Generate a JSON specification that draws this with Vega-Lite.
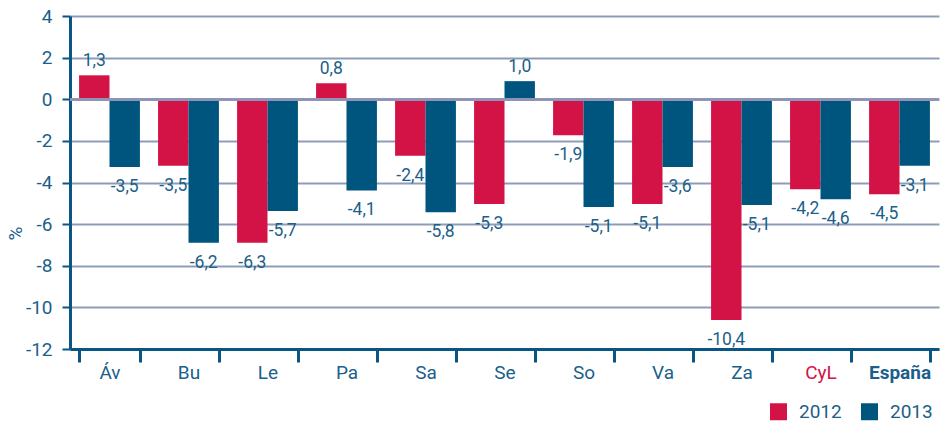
{
  "$schema": "https://vega.github.io/schema/vega-lite/v6.json",
  "width": 869,
  "height": 333,
  "autosize": "none",
  "padding": {"left": 70, "top": 16, "right": 3, "bottom": 73},
  "background": "white",
  "config": {
    "view": {"stroke": null},
    "font": "Roboto",
    "text": {"font": "Roboto"}
  },
  "data": {
    "values": [
      {"region": "Áv", "year": "2012", "value": 1.15, "label": "1,3"},
      {"region": "Áv", "year": "2013", "value": -3.25, "label": "-3,5"},
      {"region": "Bu", "year": "2012", "value": -3.2, "label": "-3,5"},
      {"region": "Bu", "year": "2013", "value": -6.9, "label": "-6,2"},
      {"region": "Le", "year": "2012", "value": -6.9, "label": "-6,3"},
      {"region": "Le", "year": "2013", "value": -5.37, "label": "-5,7"},
      {"region": "Pa", "year": "2012", "value": 0.77, "label": "0,8"},
      {"region": "Pa", "year": "2013", "value": -4.38, "label": "-4,1"},
      {"region": "Sa", "year": "2012", "value": -2.72, "label": "-2,4"},
      {"region": "Sa", "year": "2013", "value": -5.43, "label": "-5,8"},
      {"region": "Se", "year": "2012", "value": -5.03, "label": "-5,3"},
      {"region": "Se", "year": "2013", "value": 0.87, "label": "1,0"},
      {"region": "So", "year": "2012", "value": -1.73, "label": "-1,9"},
      {"region": "So", "year": "2013", "value": -5.18, "label": "-5,1"},
      {"region": "Va", "year": "2012", "value": -5.03, "label": "-5,1"},
      {"region": "Va", "year": "2013", "value": -3.25, "label": "-3,6"},
      {"region": "Za", "year": "2012", "value": -10.61, "label": "-10,4"},
      {"region": "Za", "year": "2013", "value": -5.08, "label": "-5,1"},
      {"region": "CyL", "year": "2012", "value": -4.33, "label": "-4,2"},
      {"region": "CyL", "year": "2013", "value": -4.81, "label": "-4,6"},
      {"region": "España", "year": "2012", "value": -4.56, "label": "-4,5"},
      {"region": "España", "year": "2013", "value": -3.2, "label": "-3,1"}
    ]
  },
  "encoding": {
    "x": {
      "field": "region",
      "type": "nominal",
      "sort": null,
      "scale": {"paddingInner": 0.23, "paddingOuter": 0.115},
      "axis": {
        "title": null,
        "labelAngle": 0,
        "tickBand": "extent",
        "domainColor": "#0B5585",
        "domainWidth": 3,
        "tickColor": "#0B5585",
        "tickWidth": 3,
        "tickSize": 13,
        "labelFontSize": 19,
        "labelFont": "Roboto",
        "labelPadding": 1,
        "labelColor": {"condition": {"test": "datum.value == 'CyL'", "value": "#D31245"}, "value": "#1B5F8A"},
        "labelFontWeight": {"condition": {"test": "datum.value == 'España'", "value": "bold"}, "value": "normal"}
      }
    },
    "xOffset": {"field": "year", "type": "nominal", "scale": {"paddingInner": 0, "paddingOuter": 0}}
  },
  "layer": [
    {
      "mark": {"type": "bar"},
      "encoding": {
        "y": {
          "field": "value",
          "type": "quantitative",
          "scale": {"domain": [-12, 4], "nice": false, "zero": true},
          "axis": {
            "title": "%",
            "titleFontSize": 19,
            "titleFontWeight": "normal",
            "titleColor": "#1B5F8A",
            "titleFont": "Roboto",
            "titleBaseline": "middle",
            "titleX": -55,
            "titleY": 217,
            "values": [-12, -10, -8, -6, -4, -2, 0, 2, 4],
            "labelExpr": "toString(datum.value)",
            "labelFontSize": 19,
            "labelFont": "Roboto",
            "labelColor": "#1B5F8A",
            "labelPadding": 10,
            "domainColor": "#0B5585",
            "domainWidth": 3,
            "tickColor": "#0B5585",
            "tickWidth": 2,
            "tickSize": 8,
            "grid": true,
            "gridColor": "#8E9CB8",
            "gridWidth": 2
          }
        },
        "color": {
          "field": "year",
          "type": "nominal",
          "scale": {"domain": ["2012", "2013"], "range": ["#D31245", "#00557F"]},
          "legend": {
            "title": null,
            "orient": "none",
            "legendX": 699,
            "legendY": 386,
            "direction": "horizontal",
            "symbolType": "square",
            "symbolSize": 289,
            "symbolStrokeWidth": 0,
            "symbolOpacity": 1,
            "labelFontSize": 19,
            "labelFont": "Roboto",
            "labelColor": "#1B5F8A",
            "labelOffset": 11,
            "columnPadding": 18,
            "padding": 0
          }
        }
      }
    },
    {
      "mark": {"type": "rule", "color": "#8F93B5", "strokeWidth": 2.5},
      "encoding": {"y": {"datum": 0, "type": "quantitative"}, "x": null, "xOffset": null}
    },
    {
      "transform": [{"filter": "datum.value < 0"}],
      "mark": {"type": "text", "dy": 20, "baseline": "middle", "fontSize": 17.5, "color": "#1B5F8A", "font": "Roboto"},
      "encoding": {
        "y": {"field": "value", "type": "quantitative"},
        "text": {"field": "label"}
      }
    },
    {
      "transform": [{"filter": "datum.value >= 0"}],
      "mark": {"type": "text", "dy": -14, "baseline": "middle", "fontSize": 17.5, "color": "#1B5F8A", "font": "Roboto"},
      "encoding": {
        "y": {"field": "value", "type": "quantitative"},
        "text": {"field": "label"}
      }
    }
  ]
}
